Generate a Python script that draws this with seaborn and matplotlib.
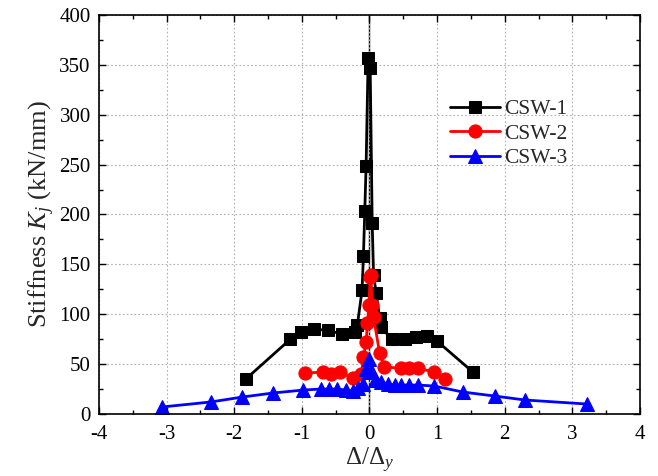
import matplotlib
matplotlib.use("Agg")
import matplotlib.pyplot as plt
import seaborn as sns
import pandas as pd
from matplotlib.ticker import MultipleLocator

sns.set_theme(style="ticks")
plt.rcParams['font.family'] = ['Liberation Serif', 'DejaVu Serif']
plt.rcParams['mathtext.fontset'] = 'custom'
plt.rcParams['mathtext.rm'] = 'Liberation Serif'
plt.rcParams['mathtext.it'] = 'Liberation Serif:italic'
plt.rcParams['axes.unicode_minus'] = False

csw1_x = [-1.83, -1.17, -1.01, -0.82, -0.62, -0.40, -0.21, -0.18, -0.11, -0.09, -0.07, -0.05, -0.02,
          0.01, 0.04, 0.06, 0.10, 0.15, 0.17, 0.33, 0.53, 0.69, 0.85, 1.00, 1.53]
csw1_y = [35, 75, 82, 85, 84, 80, 82, 89, 124, 158, 203, 249, 357,
          347, 191, 139, 121, 96, 87, 75, 75, 77, 78, 73, 42]

csw2_x = [-0.96, -0.69, -0.57, -0.44, -0.25, -0.12, -0.09, -0.05, -0.03, -0.01, 0.01, 0.02,
          0.04, 0.06, 0.15, 0.22, 0.47, 0.59, 0.71, 0.96, 1.11]
csw2_y = [41, 42, 40, 42, 36, 40, 57, 72, 91, 109, 137, 139, 109, 97, 61, 47, 46, 46, 46, 42, 35]

csw3_x = [-3.07, -2.35, -1.88, -1.43, -0.98, -0.72, -0.60, -0.48, -0.35, -0.25, -0.17, -0.10,
          -0.05, 0.00, 0.04, 0.08, 0.17, 0.27, 0.37, 0.47, 0.59, 0.72, 0.96, 1.38, 1.85, 2.30, 3.21]
csw3_y = [7, 12, 17, 21, 24, 25, 25, 25, 24, 23, 26, 30, 45, 55, 42, 34, 32, 30, 29, 29, 29, 29,
          28, 22, 18, 14, 10]

series = [("CSW-1", csw1_x, csw1_y, "black", "s", 8.5),
          ("CSW-2", csw2_x, csw2_y, "red", "o", 9.5),
          ("CSW-3", csw3_x, csw3_y, "blue", "^", 9.5)]

fig = plt.figure(figsize=(6.58, 4.76), dpi=100)
ax = fig.add_axes([0.1505, 0.1303, 0.8221, 0.8382])

for name, xs, ys, col, mk, ms in series:
    df = pd.DataFrame({"x": xs, "y": ys})
    sns.lineplot(data=df, x="x", y="y", ax=ax, color=col, marker=mk, markersize=ms,
                 markeredgecolor=col, linewidth=2, sort=False, estimator=None, label=name)

ax.axvline(0, color="black", linewidth=1, zorder=0.5)
ax.set_xlim(-4, 4)
ax.set_ylim(0, 400)
ax.xaxis.set_major_locator(MultipleLocator(1))
ax.xaxis.set_minor_locator(MultipleLocator(0.5))
ax.yaxis.set_major_locator(MultipleLocator(50))
ax.yaxis.set_minor_locator(MultipleLocator(25))
ax.grid(True, which="major", color="#b0b0b0", linestyle=(0, (1.5, 2)), linewidth=0.8)
ax.set_axisbelow(True)
ax.tick_params(which="both", direction="in", top=True, right=True, colors="black",
               labelsize=15, width=1)
ax.tick_params(axis="x", which="major", pad=8)
ax.tick_params(axis="y", which="major", pad=6)
ax.tick_params(which="major", length=5)
ax.tick_params(which="minor", length=3)
for s in ax.spines.values():
    s.set_color("black")
    s.set_linewidth(1.2)

ax.set_xlabel(r"Δ/Δ$_y$", fontsize=18, labelpad=1)
ax.set_ylabel(r"Stiffness $K_j$ (kN/mm)", fontsize=19, labelpad=2)

leg = ax.legend(loc="upper left", bbox_to_anchor=(0.633, 0.81), frameon=False, fontsize=15.5,
                handlelength=2.3, handletextpad=0.2, labelspacing=0.2, borderaxespad=0)

fig.savefig("out.png", dpi=100)
